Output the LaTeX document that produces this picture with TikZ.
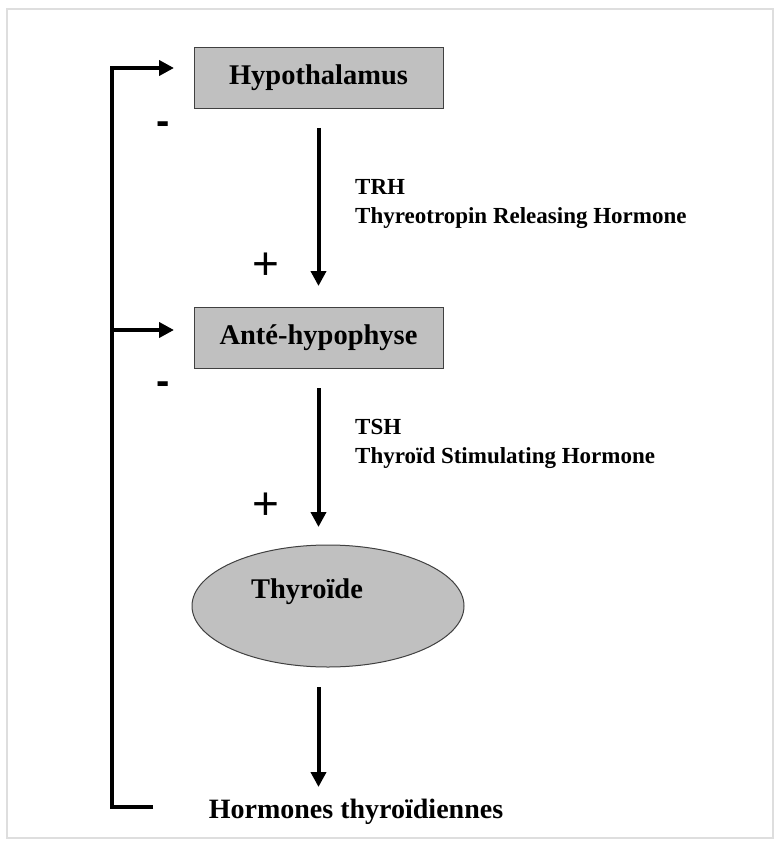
\documentclass[tikz,border=0pt]{standalone}
\usepackage{fontspec}
\setmainfont{Liberation Serif}
\newfontfamily\signfont{Liberation Sans}
\usetikzlibrary{arrows.meta,shapes.geometric}
\definecolor{boxgray}{RGB}{192,192,192}
\definecolor{framegray}{RGB}{222,222,222}
\tikzset{
  organbox/.style={draw=black!75, line width=1pt, fill=boxgray, minimum width=249pt, minimum height=61pt, inner sep=0pt, font=\fontsize{28.5}{30}\selectfont\bfseries},
  organell/.style={ellipse, draw=black!75, line width=1pt, fill=boxgray, minimum width=272pt, minimum height=122pt, inner sep=0pt},
  lbl/.style={inner sep=0pt, font=\fontsize{28.5}{30}\selectfont\bfseries},
  hormlbl/.style={inner sep=0pt, anchor=west, align=left, font=\fontsize{23}{29}\selectfont\bfseries},
  sign/.style={inner sep=0pt, font=\signfont\fontsize{46}{46}\selectfont},
  minussign/.style={inner sep=0pt, font=\signfont\bfseries\fontsize{40}{40}\selectfont},
  arr/.style={line width=4pt, -{Triangle[length=15pt,width=15pt]}},
  fb/.style={line width=4pt},
}
\begin{document}
\begin{tikzpicture}[x=1pt,y=-1pt]
\useasboundingbox (0,0) rectangle (782,861);
\fill[white] (0,0) rectangle (782,861);
\draw[framegray, line width=1.5pt] (7,9) rectangle (773,838);

\node[organbox] (hyp) at (318.5,78) {Hypothalamus};
\node[organbox] (ante) at (318.5,337.5) {Anté-hypophyse};
\node[organell] (thy) at (328,606) {};
\node[lbl] (thylbl) at (307,592) {Thyroïde};
\node[lbl, font=\fontsize{28}{30}\selectfont\bfseries] (horm) at (356,812) {Hormones thyroïdiennes};

\node[hormlbl] (trh) at (355,204) {TRH\\Thyreotropin Releasing Hormone};
\node[hormlbl] (tsh) at (355,444) {TSH\\Thyroïd Stimulating Hormone};

\node[sign] (plus1) at (266,266) {+};
\node[sign] (plus2) at (266,506) {+};
\node[minussign] (minus1) at (163,128) {-};
\node[minussign] (minus2) at (163,388) {-};

% main cascade
\coordinate (a1s) at (318.5,128);
\coordinate (a1e) at (318.5,286);
\coordinate (a2s) at (318.5,388);
\coordinate (a2e) at (318.5,527);
\coordinate (a3s) at (318.5,687);
\coordinate (a3e) at (318.5,787);
\draw[arr] (a1s) -- (a1e);
\draw[arr] (a2s) -- (a2e);
\draw[arr] (a3s) -- (a3e);

% feedback loop
\coordinate (fbstart) at (153,807);
\coordinate (fbcorner) at (112,807);
\coordinate (fbtop) at (112,68);
\coordinate (fbmid) at (112,330);
\coordinate (fbhyp) at (174,68);
\coordinate (fbante) at (174,330);
\draw[fb, line join=miter] (fbstart) -- (fbcorner) -- (fbtop) -- (130,68);
\draw[arr] (fbtop) -- (fbhyp);
\draw[arr] (fbmid) -- (fbante);
\end{tikzpicture}
\end{document}
